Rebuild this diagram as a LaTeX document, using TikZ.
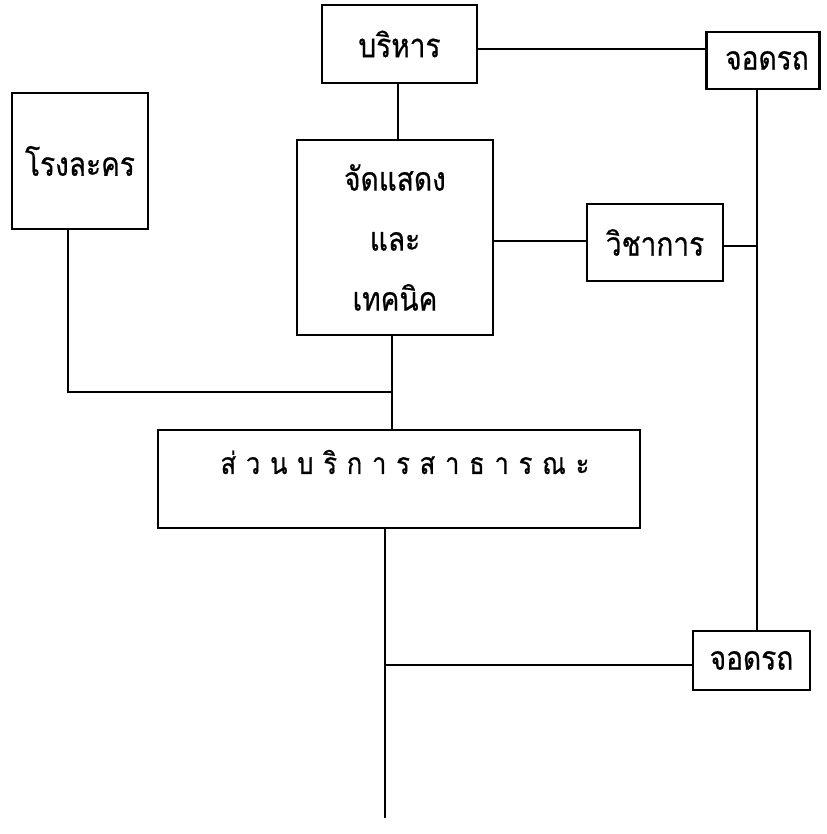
\documentclass[tikz,border=0pt]{standalone}
\usepackage{fontspec}
\newfontfamily\thaifont[Script=Thai,FakeStretch=0.85,FakeBold=0.6]{Loma}
\newcommand\thgap{\hspace{9.8pt}}
\begin{document}
\begin{tikzpicture}[x=1pt,y=-1pt,line width=2.5pt,
  box/.style={draw,line width=2.5pt,inner sep=0pt,font=\thaifont\fontsize{33}{36}\selectfont},
  conn/.style={draw,line width=2.5pt}]
\useasboundingbox (0,0) rectangle (826,834);
% boxes
\node[box,minimum width=155pt,minimum height=78pt] (b) at (399.5,44) {บริหาร};
\node[box,minimum width=113pt,minimum height=57pt] (j1) at (763,60.5) {\hspace{8pt}จอดรถ};
\node[box,minimum width=136pt,minimum height=136pt] (r) at (80,161) {โรงละคร};
\node[box,minimum width=196pt,minimum height=195pt,align=center,
      font=\thaifont\fontsize{33}{60}\selectfont] (show) at (395,237.5) {จัดแสดง\\และ\\เทคนิค};
\node[box,minimum width=136pt,minimum height=77pt] (vi) at (655,242.5) {วิชาการ};
\node[box,minimum width=482pt,minimum height=98pt] (sv) at (399,479) {};
\node[inner sep=0pt,font=\thaifont\fontsize{30}{30}\selectfont] (svt) at (405,462)
  {ส่\thgap ว\thgap น\thgap บ\thgap ริ\thgap ก\thgap า\thgap ร\thgap ส\thgap า\thgap ธ\thgap า\thgap ร\thgap ณ\thgap ะ};
\node[box,minimum width=117pt,minimum height=59pt] (j2) at (751.5,660.5) {จอดรถ};
% junction points
\coordinate (jl) at (392,392);
\coordinate (jv) at (757,246);
\coordinate (jb) at (385,665);
\coordinate (endb) at (385,818);
% connectors
\draw[conn] (b.east |- 0,49) -- (j1.west |- 0,49);
\draw[conn] (b.south -| 398,0) -- (show.north -| 398,0);
\draw[conn] (show.east |- 0,241) -- (vi.west |- 0,241);
\draw[conn] (vi.east |- jv) -- (jv);
\draw[conn] (j1.south -| jv) -- (j2.north -| jv);
\draw[conn] (r.south -| 68,0) |- (jl);
\draw[conn] (show.south -| jl) -- (sv.north -| jl);
\draw[conn] (sv.south -| jb) -- (endb);
\draw[conn] (jb) -- (j2.west |- jb);
\end{tikzpicture}
\end{document}
